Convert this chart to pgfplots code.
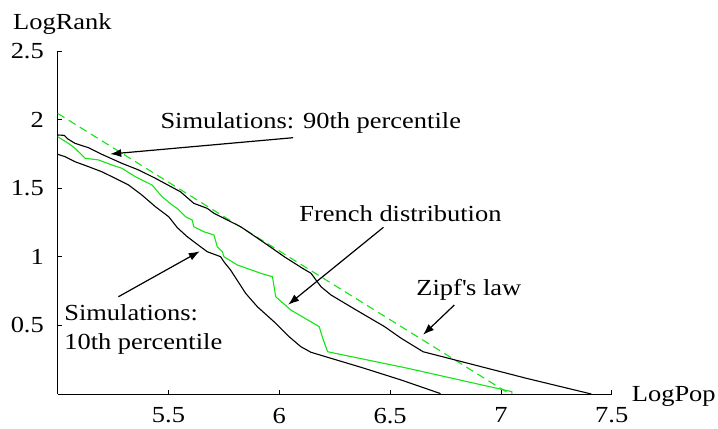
\documentclass[border=0pt]{standalone}
\usepackage{fontspec}
\setmainfont{Liberation Serif}[FakeStretch=1.15]
\usepackage{pgfplots}
\pgfplotsset{compat=1.18}
\usetikzlibrary{arrows.meta}
\definecolor{zgreen}{RGB}{20,228,20}

\begin{document}
\fontsize{23}{27}\selectfont
\begin{tikzpicture}[font=\fontsize{23}{27}\selectfont]
\begin{axis}[
  width=554pt, height=343pt, scale only axis,
  xmin=5, xmax=7.5, ymin=0, ymax=2.5,
  axis lines=left, axis line style={-, line width=0.8pt},
  xtick={5.5,6,6.5,7,7.5}, ytick={0.5,1,1.5,2,2.5},
  tick align=inside, major tick length=4pt,
  tick style={black, line width=0.8pt},
  /pgf/number format/assume math mode=true,
  xticklabel style={yshift=-6pt},
  yticklabel style={xshift=-6pt},
  ticklabel style={font=\fontsize{23}{27}\selectfont},
  clip=false,
]
\coordinate (bl) at (rel axis cs:0,0);
\coordinate (tr) at (rel axis cs:1,1);

% Zipf's law
\addplot[zgreen, line width=1.1pt, dash pattern=on 8pt off 5pt] coordinates {(5,2.045) (7.04,0)};

% Simulations 90th percentile
\addplot[black, line width=1.1pt] coordinates {
(5.000,1.888) (5.030,1.885) (5.045,1.860) (5.078,1.827) (5.139,1.795) (5.199,1.747)
(5.290,1.681) (5.365,1.633) (5.441,1.572) (5.554,1.474) (5.614,1.390) (5.675,1.353)
(5.705,1.317) (5.826,1.219) (5.947,1.086) (6.022,1.001) (6.105,0.916) (6.143,0.880)
(6.188,0.782) (6.233,0.722) (6.347,0.612) (6.475,0.491) (6.550,0.406) (6.649,0.308)
(7.116,0.114) (7.408,0.0)};

% French distribution
\addplot[zgreen, line width=1.1pt] coordinates {
(5.000,1.875) (5.048,1.827) (5.078,1.791) (5.124,1.718) (5.184,1.706) (5.245,1.669)
(5.290,1.645) (5.350,1.584) (5.426,1.523) (5.471,1.438) (5.516,1.378) (5.539,1.353)
(5.577,1.292) (5.607,1.268) (5.614,1.219) (5.659,1.183) (5.705,1.159) (5.720,1.074)
(5.743,1.037) (5.750,1.001) (5.811,0.940) (5.916,0.880) (5.969,0.855) (5.984,0.709)
(6.052,0.612) (6.180,0.491) (6.196,0.406) (6.218,0.308) (6.581,0.187) (7.049,0.017)
(7.050,0)};

% Simulations 10th percentile
\addplot[black, line width=1.1pt] coordinates {
(5.000,1.747) (5.033,1.730) (5.078,1.693) (5.139,1.657) (5.199,1.620) (5.260,1.572)
(5.320,1.523) (5.380,1.450) (5.441,1.365) (5.501,1.292) (5.540,1.212) (5.584,1.147)
(5.644,1.074) (5.675,1.037) (5.735,1.001) (5.750,0.964) (5.780,0.904) (5.848,0.734)
(5.901,0.636) (5.976,0.527) (6.044,0.418) (6.097,0.345) (6.143,0.304) (6.384,0.187)
(6.550,0.102) (6.724,0.005) (6.727,0)};

% annotations
\node[anchor=base west, inner sep=0] at (axis cs:5.463,1.937) {Simulations: 90th percentile};
\draw[-{Latex[length=11pt,width=8pt]}, line width=1.2pt] (axis cs:6.062,1.868) -- (axis cs:5.237,1.749);

\node[anchor=base west, inner sep=0] at (axis cs:6.090,1.254) {French distribution};
\draw[-{Latex[length=11pt,width=8pt]}, line width=1.2pt] (axis cs:6.470,1.215) -- (axis cs:6.040,0.651);

\node[anchor=base west, inner sep=0] at (axis cs:6.618,0.716) {Zipf\textquotesingle s law};
\draw[-{Latex[length=11pt,width=8pt]}, line width=1.2pt] (axis cs:6.790,0.649) -- (axis cs:6.649,0.432);

\node[anchor=base west, inner sep=0] at (axis cs:5.029,0.534) {Simulations:};
\node[anchor=base west, inner sep=0] at (axis cs:5.029,0.328) {10th percentile};
\draw[-{Latex[length=11pt,width=8pt]}, line width=1.2pt] (axis cs:5.274,0.709) -- (axis cs:5.641,1.040);

% axis labels
\node[anchor=base west, inner sep=0] at ([xshift=-44.7pt, yshift=21.7pt]rel axis cs:0,1) {LogRank};
\node[anchor=base west, inner sep=0] at ([xshift=20pt, yshift=-7.7pt]rel axis cs:1,0) {LogPop};
\end{axis}
\pgfresetboundingbox
\path ([shift={(-57.7pt,-34pt)}]bl) rectangle ([shift={(106.3pt,51pt)}]tr);
\end{tikzpicture}
\end{document}
